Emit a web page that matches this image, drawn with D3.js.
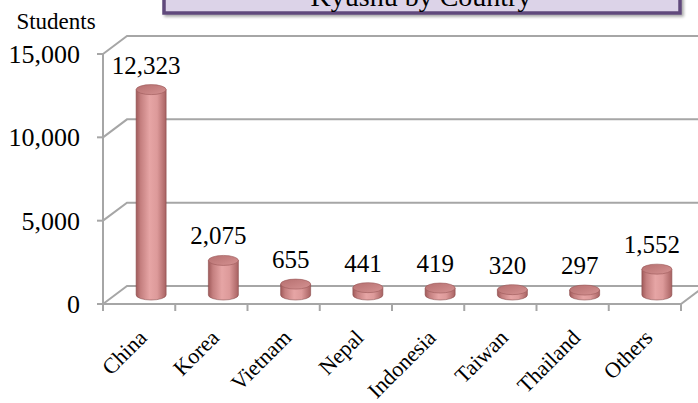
<!DOCTYPE html>
<html>
<head>
<meta charset="utf-8">
<script src="https://cdn.jsdelivr.net/npm/d3@7"></script>
<style>
  body { margin: 0; background: #fff; }
  svg { display: block; font-family: 'Liberation Serif', 'Times New Roman', serif; }
</style>
</head>
<body>
<div id="chart"></div>
<script>
var categories = ['China', 'Korea', 'Vietnam', 'Nepal', 'Indonesia', 'Taiwan', 'Thailand', 'Others']
var students = [12323, 2075, 655, 441, 419, 320, 297, 1552]
var yTicks = [0, 5000, 10000, 15000]
var title = 'Kyushu by Country'
var yLabel = 'Students'

var width = 698, height = 403
var depth = {x: 24, y: -18}

var svg = d3.select('#chart').append('svg')
  .attr('width', width).attr('height', height)

var x = d3.scaleBand().domain(categories).range([103, 681]).paddingInner(0).paddingOuter(0)
var y = d3.scaleLinear().domain([0, 15000]).range([304, 54])

var defs = svg.append('defs')
var grad = defs.append('linearGradient').attr('id', 'cyl').attr('x1', 0).attr('x2', 1).attr('y1', 0).attr('y2', 0)
grad.selectAll('stop').data([
  [0, '#a05a5a'], [0.15, '#c47f7f'], [0.45, '#e6a5a5'], [0.7, '#dd9a9a'], [1, '#a86262']
]).join('stop').attr('offset', d => d[0]).attr('stop-color', d => d[1])
var topGrad = defs.append('linearGradient').attr('id', 'cyltop').attr('x1', 0).attr('x2', 1).attr('y1', 0).attr('y2', 1)
topGrad.selectAll('stop').data([[0, '#b56f6f'], [1, '#d59292']])
  .join('stop').attr('offset', d => d[0]).attr('stop-color', d => d[1])
var shadow = defs.append('filter').attr('id', 'shadow').attr('x', -0.1).attr('y', -0.5).attr('width', 1.2).attr('height', 2)
shadow.append('feDropShadow').attr('dx', 2).attr('dy', 2).attr('stdDeviation', 1.5).attr('flood-color', '#000').attr('flood-opacity', 0.35)

// walls and gridlines
var gridColor = '#a6a6a6'
var x0 = x.range()[0], x1 = x.range()[1]
var grid = svg.append('g').attr('stroke', gridColor).attr('stroke-width', 2).attr('fill', 'none')
grid.selectAll('path.grid').data(yTicks).join('path').attr('class', 'grid')
  .attr('d', d => `M${x0},${y(d)}L${x0 + depth.x},${y(d) + depth.y}L${x1 + depth.x},${y(d) + depth.y}`)
// floor front edge and right side
grid.append('path').attr('d', `M${x0},${y(0)}L${x1},${y(0)}L${x1 + depth.x},${y(0) + depth.y}`)
// front value axis
grid.append('line').attr('x1', x0).attr('x2', x0).attr('y1', y(15000)).attr('y2', y(0))
grid.selectAll('line.ytick').data(yTicks).join('line').attr('class', 'ytick')
  .attr('x1', x0 - 6).attr('x2', x0).attr('y1', d => y(d)).attr('y2', d => y(d))
var bounds = categories.map(c => x(c)).concat([x1])
grid.selectAll('line.xtick').data(bounds).join('line').attr('class', 'xtick')
  .attr('x1', d => d).attr('x2', d => d).attr('y1', y(0)).attr('y2', y(0) + 7)

// y tick labels
svg.selectAll('text.ylab').data(yTicks).join('text').attr('class', 'ylab')
  .attr('x', 80).attr('y', d => y(d)).attr('dy', '0.35em')
  .attr('text-anchor', 'end').attr('font-size', 26).attr('fill', '#000')
  .text(d => d3.format(',')(d))

svg.append('text').attr('x', 56).attr('y', 29).attr('text-anchor', 'middle')
  .attr('font-size', 23).text(yLabel)

// cylinders
var rx = 15, ry = 5
var data = categories.map((c, i) => ({cat: c, v: students[i]}))
var cx = d => x(d.cat) + x.bandwidth() / 2 + depth.x / 2
var yMid = v => y(v) + depth.y / 2

var bars = svg.append('g').selectAll('g').data(data).join('g')
bars.append('path')
  .attr('d', d => {
    var c = cx(d), t = yMid(d.v), b = yMid(0)
    return `M${c - rx},${t}L${c - rx},${b}A${rx},${ry} 0 0 0 ${c + rx},${b}L${c + rx},${t}Z`
  })
  .attr('fill', 'url(#cyl)').attr('stroke', '#8c4c4c').attr('stroke-width', 0.6)
bars.append('ellipse')
  .attr('cx', cx).attr('cy', d => yMid(d.v)).attr('rx', rx).attr('ry', ry)
  .attr('fill', 'url(#cyltop)').attr('stroke', '#9a5757').attr('stroke-width', 0.6)

svg.selectAll('text.val').data(data).join('text').attr('class', 'val')
  .attr('x', d => cx(d) - 5).attr('y', d => yMid(d.v) - ry - 11)
  .attr('text-anchor', 'middle').attr('font-size', 25).attr('fill', '#000')
  .text(d => d3.format(',')(d.v))

// category labels
svg.selectAll('text.cat').data(categories).join('text').attr('class', 'cat')
  .attr('transform', d => `translate(${x(d) + x.bandwidth() / 2 + 9},${y(0) + 35}) rotate(-45)`)
  .attr('text-anchor', 'end').attr('font-size', 22).attr('fill', '#000')
  .text(d => d)

// title box
var tb = svg.append('g')
tb.append('rect').attr('x', 164).attr('y', -30).attr('width', 516).attr('height', 43)
  .attr('fill', '#dcd3e8').attr('stroke', '#604a7b').attr('stroke-width', 3.5)
  .attr('filter', 'url(#shadow)')
tb.append('text').attr('x', 421).attr('y', 6).attr('text-anchor', 'middle')
  .attr('font-size', 28).attr('fill', '#000').text(title)
</script>
</body>
</html>
